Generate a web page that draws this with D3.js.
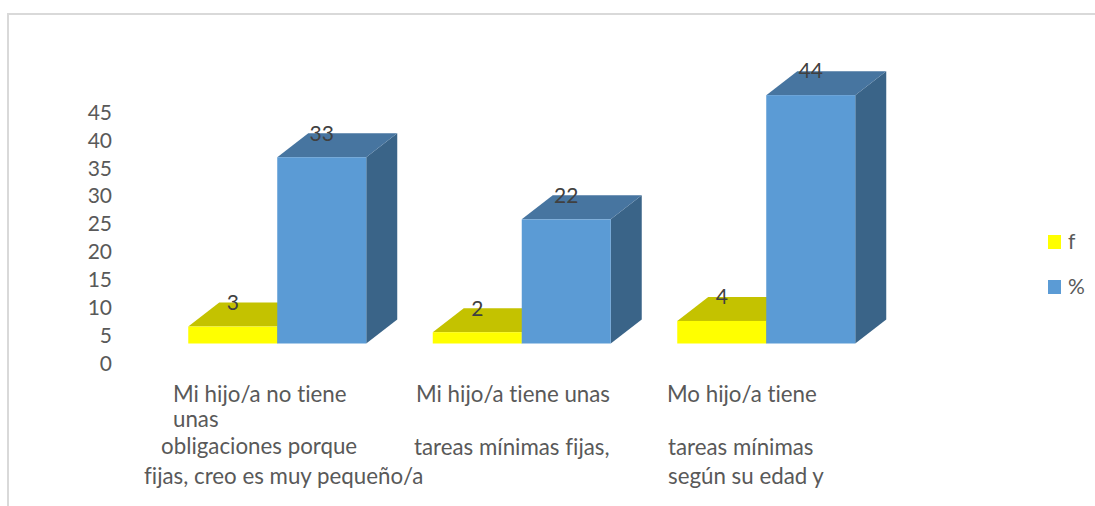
<!DOCTYPE html>
<html>
<head>
<meta charset="utf-8">
<script src="https://cdn.jsdelivr.net/npm/d3@7"></script>
<style>
    html, body { margin: 0; padding: 0; background: #fff; overflow: hidden; }
    text { font-family: Lato, "Open Sans", sans-serif; font-variant-ligatures: none; }
</style>
</head>
<body>
<div id="chart"></div>
<script>
const categorias = ["cat1", "cat2", "cat3"];
const series = ["f", "%"];
const valoresF = [3, 2, 4];
const valoresPct = [33, 22, 44];
const ticks = [0, 5, 10, 15, 20, 25, 30, 35, 40, 45];
const etiquetas = [
    ["Mi hijo/a no tiene", "unas", "obligaciones porque", "fijas, creo es muy pequeño/a"],
    ["Mi hijo/a tiene unas", "tareas mínimas fijas,"],
    ["Mo hijo/a tiene", "tareas mínimas", "según su edad y"]
];

const width = 1095, height = 506;
const depth = {x: 31, y: 24};
const colores = {
    "f": {front: "#ffff00", top: "#c4c200", side: "#a8a600"},
    "%": {front: "#5b9bd5", top: "#4775a0", side: "#3a6488"}
};

// x, y of each wrapped label line (the wrapping in the picture is uneven)
const lineasPos = [
    [[173, 394], [173, 419], [161, 446], [144, 476]],
    [[416, 394], [414, 447]],
    [[667, 394], [668, 447], [668, 476]]
];

var svg = d3.select("#chart")
    .append("svg")
    .attr("width", width)
    .attr("height", height);

// outer frame, only top and left show
svg.append("path")
    .attr("d", "M8," + height + "V14H" + width)
    .attr("fill", "none")
    .attr("stroke", "#d9d9d9")
    .attr("stroke-width", 2);

var x = d3.scaleBand()
    .domain(categorias)
    .range([155, 888.5])
    .paddingInner(0.272)
    .paddingOuter(0.136);

var xSerie = d3.scaleBand()
    .domain(series)
    .range([0, x.bandwidth()]);

var y = d3.scaleLinear()
    .domain([0, 45])
    .range([343.5, 89.5]);

// the tick labels sit lower than the bars' floor, they have their own scale
var yEje = d3.scaleLinear()
    .domain([0, 45])
    .range([363.5, 112.5]);

var eje = svg.append("g")
    .attr("transform", "translate(112,0)")
    .call(d3.axisLeft(yEje).tickValues(ticks).tickSize(0).tickPadding(0));
eje.select(".domain").remove();
eje.selectAll("text")
    .style("font-family", "Lato, 'Open Sans', sans-serif")
    .style("font-size", "21px")
    .attr("fill", "#595959");

var datos = [];
series.forEach(function(s, i) {
    var vals = i === 0 ? valoresF : valoresPct;
    categorias.forEach(function(c, j) {
        datos.push({serie: s, cat: c, value: vals[j]});
    });
});

var barras = svg.selectAll(".barra")
    .data(datos)
    .enter()
    .append("g")
    .attr("class", "barra")
    .attr("transform", d => "translate(" + (x(d.cat) + xSerie(d.serie)) + ",0)");

var bw = xSerie.bandwidth();

barras.append("path")
    .attr("fill", d => colores[d.serie].side)
    .attr("d", d => "M" + bw + "," + y(d.value)
        + "l" + depth.x + "," + (-depth.y)
        + "V" + (y(0) - depth.y)
        + "L" + bw + "," + y(0) + "Z");

barras.append("path")
    .attr("fill", d => colores[d.serie].top)
    .attr("d", d => "M0," + y(d.value)
        + "l" + depth.x + "," + (-depth.y)
        + "h" + bw
        + "l" + (-depth.x) + "," + depth.y + "Z");

barras.append("rect")
    .attr("y", d => y(d.value))
    .attr("width", bw)
    .attr("height", d => y(0) - y(d.value))
    .attr("fill", d => colores[d.serie].front);

// value labels go on top of all the bars
svg.selectAll(".valor")
    .data(datos)
    .enter()
    .append("text")
    .attr("class", "valor")
    .attr("x", d => x(d.cat) + xSerie(d.serie) + bw / 2)
    .attr("y", d => y(d.value) - depth.y)
    .attr("dy", ".35em")
    .attr("text-anchor", "middle")
    .attr("fill", "#404040")
    .style("font-size", "21px")
    .text(d => d.value);

etiquetas.forEach(function(lineas, i) {
    lineas.forEach(function(t, j) {
        svg.append("text")
            .attr("x", lineasPos[i][j][0])
            .attr("y", lineasPos[i][j][1])
            .attr("dy", ".35em")
            .attr("fill", "#595959")
            .style("font-size", "22.3px")
            .text(t);
    });
});

var legend = svg.selectAll(".legend")
    .data(series)
    .enter()
    .append("g")
    .attr("class", "legend")
    .attr("transform", (d, i) => "translate(1048," + (235 + i * 45) + ")");

legend.append("rect")
    .attr("width", 13)
    .attr("height", 14)
    .attr("fill", d => colores[d].front);

legend.append("text")
    .attr("x", 20)
    .attr("y", 7)
    .attr("dy", ".35em")
    .attr("fill", "#595959")
    .style("font-size", "21px")
    .text(d => d);
</script>
</body>
</html>
